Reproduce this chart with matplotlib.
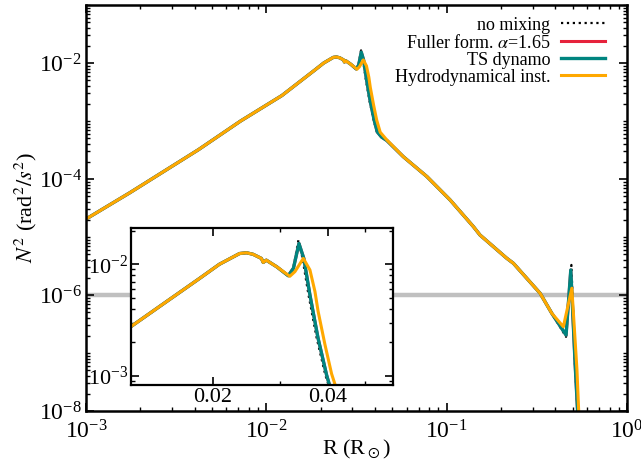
import numpy as np
import matplotlib
matplotlib.use('Agg')
import matplotlib.pyplot as plt
from matplotlib.ticker import FixedLocator, FixedFormatter, NullFormatter, LogLocator

plt.rcParams['font.family'] = 'serif'
plt.rcParams['font.serif'] = ['Liberation Serif', 'DejaVu Serif']
plt.rcParams['mathtext.fontset'] = 'stix'

# no mixing
r_nomix = [1.0e-3, 1.75e-3, 4.2e-3, 7.2e-3, 0.0122, 0.0151, 0.0185, 0.0208, 0.0235, 0.0245,
           0.0255, 0.0268, 0.0271, 0.0276, 0.0294, 0.0315, 0.0325, 0.0335, 0.0343, 0.0356,
           0.0374, 0.0394, 0.0410, 0.0435, 0.0466, 0.0575, 0.0777, 0.1045, 0.1406, 0.1531,
           0.2153, 0.2344, 0.3297, 0.3828, 0.4590, 0.4916, 0.5150, 0.5380]
n2_nomix = [2.04e-5, 5.8e-5, 3.2e-4, 1.0e-3, 2.75e-3, 4.6e-3, 7.5e-3, 1.0e-2, 1.25e-2, 1.27e-2,
            1.23e-2, 1.13e-2, 1.04e-2, 1.09e-2, 9.5e-3, 7.9e-3, 9.3e-3, 1.65e-2, 1.15e-2, 5.3e-3,
            2.17e-3, 1.01e-3, 6.6e-4, 5.3e-4, 4.6e-4, 2.42e-4, 1.10e-4, 4.35e-5, 1.51e-5, 1.08e-5,
            4.3e-6, 3.52e-6, 1.07e-6, 4.83e-7, 1.9e-7, 3.3e-6, 6.0e-8, 5e-9]

# TS dynamo (Fuller formalism lies on top of it)
r_ts = [1.0e-3, 1.75e-3, 4.2e-3, 7.2e-3, 0.0122, 0.0151, 0.0185, 0.0208, 0.0235, 0.0245,
        0.0255, 0.0268, 0.0271, 0.0276, 0.0294, 0.0315, 0.0325, 0.0336, 0.0346, 0.0359,
        0.0377, 0.0397, 0.0412, 0.0435, 0.0466, 0.0575, 0.0777, 0.1045, 0.1406, 0.1531,
        0.2153, 0.2344, 0.3297, 0.3828, 0.4592, 0.4877, 0.5152, 0.5383]
n2_ts = [2.04e-5, 5.8e-5, 3.2e-4, 1.0e-3, 2.75e-3, 4.6e-3, 7.5e-3, 1.0e-2, 1.25e-2, 1.27e-2,
         1.23e-2, 1.13e-2, 1.04e-2, 1.09e-2, 9.5e-3, 7.9e-3, 9.2e-3, 1.54e-2, 1.13e-2, 5.3e-3,
         2.17e-3, 1.01e-3, 6.5e-4, 5.3e-4, 4.6e-4, 2.42e-4, 1.10e-4, 4.35e-5, 1.51e-5, 1.08e-5,
         4.3e-6, 3.52e-6, 1.07e-6, 4.83e-7, 2.04e-7, 2.7e-6, 6.7e-8, 5e-9]
n2_fuller = [2.04e-5, 5.8e-5, 3.2e-4, 1.0e-3, 2.75e-3, 4.6e-3, 7.5e-3, 1.0e-2, 1.25e-2, 1.27e-2,
             1.23e-2, 1.13e-2, 1.04e-2, 1.09e-2, 9.5e-3, 7.9e-3, 9.2e-3, 1.54e-2, 1.13e-2, 5.3e-3,
             2.17e-3, 1.01e-3, 6.5e-4, 5.3e-4, 4.6e-4, 2.42e-4, 1.10e-4, 4.35e-5, 1.51e-5, 1.08e-5,
             4.3e-6, 3.52e-6, 1.07e-6, 4.83e-7, 2.04e-7, 2.7e-6, 6.7e-8, 5e-9]

# hydrodynamical instabilities
r_hydro = [1.0e-3, 1.75e-3, 4.2e-3, 7.2e-3, 0.0122, 0.0151, 0.0185, 0.0208, 0.0235, 0.0245,
           0.0255, 0.0268, 0.0271, 0.0276, 0.0294, 0.0318, 0.0328, 0.0345, 0.0359, 0.0370,
           0.0377, 0.0393, 0.0409, 0.0428, 0.0466, 0.0575, 0.0777, 0.1045, 0.1406, 0.1531,
           0.2153, 0.2344, 0.3297, 0.3828, 0.4436, 0.4943, 0.5277, 0.5445]
n2_hydro = [2.04e-5, 5.8e-5, 3.2e-4, 1.0e-3, 2.75e-3, 4.6e-3, 7.5e-3, 1.0e-2, 1.25e-2, 1.27e-2,
            1.23e-2, 1.13e-2, 1.04e-2, 1.09e-2, 9.5e-3, 7.8e-3, 8.6e-3, 1.13e-2, 8.9e-3, 5.7e-3,
            3.8e-3, 1.9e-3, 1.04e-3, 6.4e-4, 4.7e-4, 2.42e-4, 1.10e-4, 4.35e-5, 1.51e-5, 1.08e-5,
            4.3e-6, 3.52e-6, 1.07e-6, 4.83e-7, 2.84e-7, 1.31e-6, 5.1e-8, 5e-9]

n2_ref = 1e-6

c_red = '#e6223c'
c_teal = '#008580'
c_orange = '#ffa800'

fig = plt.figure(figsize=(6.41, 4.63), dpi=100)
ax = fig.add_axes([0.1342, 0.1123, 0.8440, 0.8769])


def draw_curves(a):
    a.plot(r_nomix, n2_nomix, ':', color='black', lw=1.6, label='no mixing')
    a.plot(r_ts, n2_fuller, '-', color=c_red, lw=2.2, label=r'Fuller form. $\alpha$=1.65')
    a.plot(r_ts, n2_ts, '-', color=c_teal, lw=2.4, label='TS dynamo')
    a.plot(r_hydro, n2_hydro, '-', color=c_orange, lw=2.2, label='Hydrodynamical inst.')


ax.axhline(n2_ref, color='#c0c0c0', lw=3.2, zorder=0)
draw_curves(ax)
ax.set_xscale('log')
ax.set_yscale('log')
ax.set_xlim(1e-3, 1)
ax.set_ylim(1e-8, 1e-1)
ax.yaxis.set_major_locator(FixedLocator([1e-8, 1e-6, 1e-4, 1e-2]))
ax.yaxis.set_minor_locator(LogLocator(base=10, subs=np.arange(1, 10), numticks=30))
ax.yaxis.set_minor_formatter(NullFormatter())
ax.tick_params(which='both', direction='in', top=True, right=True, labelsize=17)
ax.tick_params(axis='x', pad=7)
ax.tick_params(axis='y', pad=3)
ax.tick_params(which='major', length=6, width=1.2)
ax.tick_params(which='minor', length=3, width=1.0)
for s in ax.spines.values():
    s.set_linewidth(1.8)
ax.set_xlabel(r'R (R$_\odot$)', fontsize=16, labelpad=-4)
ax.set_ylabel(r'$N^2$ (rad$^2/s^2$)', fontsize=16, labelpad=0)
ax.legend(loc='upper right', bbox_to_anchor=(0.972, 0.989), frameon=False, markerfirst=False,
          fontsize=13, handlelength=2.4, handletextpad=0.6, labelspacing=0.0, borderaxespad=0)

# inset
axin = fig.add_axes([0.2039, 0.1685, 0.4092, 0.3391])
draw_curves(axin)
axin.set_xscale('log')
axin.set_yscale('log')
axin.set_xlim(0.0122, 0.0592)
axin.set_ylim(8.25e-4, 2.12e-2)
axin.xaxis.set_major_locator(FixedLocator([0.02, 0.04]))
axin.xaxis.set_major_formatter(FixedFormatter(['0.02', '0.04']))
axin.xaxis.set_minor_locator(FixedLocator([0.03, 0.05]))
axin.xaxis.set_minor_formatter(NullFormatter())
axin.yaxis.set_minor_formatter(NullFormatter())
axin.tick_params(which='both', direction='in', top=True, right=True, labelsize=16, pad=2)
axin.tick_params(which='major', length=6, width=1.2)
axin.tick_params(which='minor', length=3, width=1.0)
for s in axin.spines.values():
    s.set_linewidth(1.6)

fig.savefig('out.png', dpi=100)
